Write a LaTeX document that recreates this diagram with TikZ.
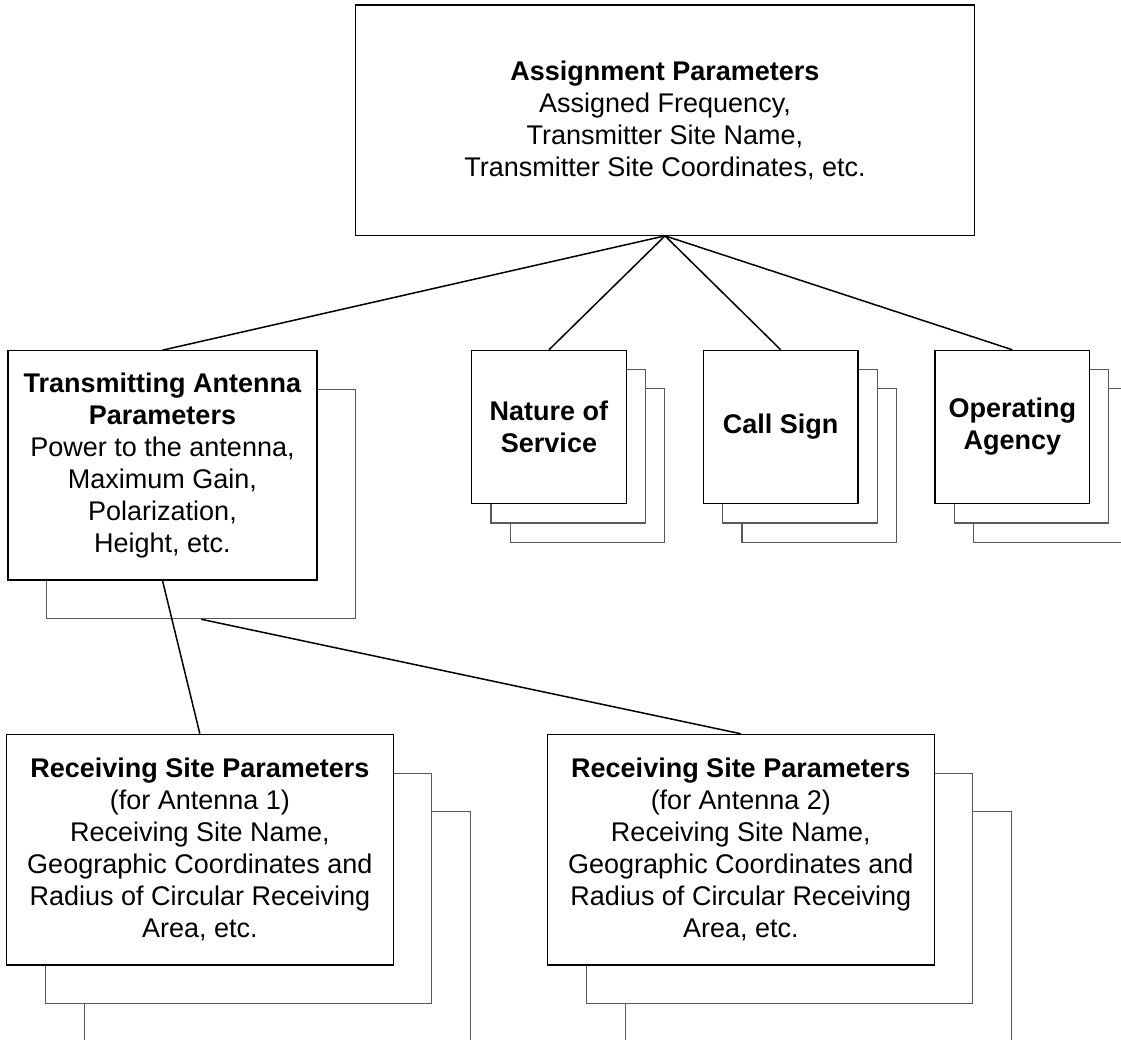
\documentclass[tikz,border=0pt]{standalone}
\usepackage{fontspec}
\setmainfont{Liberation Sans}
\usepackage{tikz}

\begin{document}
\begin{tikzpicture}
	[
	x=0.5pt, y=-0.5pt, font=\fontsize{13.5}{16}\selectfont,
	%Kästen
	box/.style={draw=black, fill=white, line width=0.55pt, align=center, inner sep=0pt},
	back/.style={box, draw=black!65},
	kante/.style={line width=0.75pt},
	gross/.style={minimum width=309.3pt, minimum height=115.15pt},
	antenne/.style={minimum width=154.5pt, minimum height=114.65pt},
	klein/.style={minimum width=77.3pt, minimum height=76.7pt},
	empfang/.style={minimum width=193.25pt, minimum height=115.35pt}
	]
	\useasboundingbox (0,0) rectangle (1121,1040);
	\clip (0,0) rectangle (1121,1040);
	%Zuweisung
	\node[box, gross] (assign) at (665,120.15) {\textbf{Assignment Parameters}\\Assigned Frequency,\\Transmitter Site Name,\\Transmitter Site Coordinates, etc.};
	%Sendeantenne
	\node[back, antenne] (tx-1) at (162.5+38.7,465.35+38.7) {};
	\node[box, antenne] (tx) at (162.5,465.35) {\textbf{Transmitting Antenna}\\\textbf{Parameters}\\Power to the antenna,\\Maximum Gain,\\Polarization,\\Height, etc.};
	%kleine Stapel
	\foreach \name/\xm in {nature/549, call/780.7, agency/1012.3}
		\foreach \k in {2,1}
			\node[back, klein] (\name-\k) at (\xm+\k*19.3, 427+\k*19.3) {};
	\node[box, klein] (nature) at (549,427) {\textbf{Nature of}\\\textbf{Service}};
	\node[box, klein] (call) at (780.7,427) {\textbf{Call Sign}};
	\node[box, klein] (agency) at (1012.3,427) {\textbf{Operating}\\\textbf{Agency}};
	%Empfangsorte
	\foreach \name/\xm in {rx1/199.85, rx2/740.8}
		\foreach \k in {2,1}
			\node[back, empfang] (\name-\k) at (\xm+\k*38.8, 849.65+\k*38.8) {};
	\node[box, empfang] (rx1) at (199.85,849.65) {\textbf{Receiving Site Parameters}\\(for Antenna 1)\\Receiving Site Name,\\Geographic Coordinates and\\Radius of Circular Receiving\\Area, etc.};
	\node[box, empfang] (rx2) at (740.8,849.65) {\textbf{Receiving Site Parameters}\\(for Antenna 2)\\Receiving Site Name,\\Geographic Coordinates and\\Radius of Circular Receiving\\Area, etc.};
	%Verbindungen
	\draw[kante] (assign.south) -- (tx.north);
	\draw[kante] (assign.south) -- (nature.north);
	\draw[kante] (assign.south) -- (call.north);
	\draw[kante] (assign.south) -- (agency.north);
	\draw[kante] (tx.south) -- (rx1.north);
	\draw[kante] (tx-1.south) -- (rx2.north);
\end{tikzpicture}
\end{document}
